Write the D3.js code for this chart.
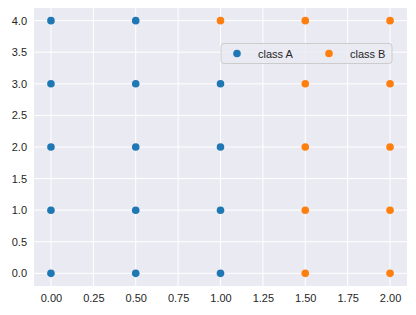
<!DOCTYPE html>
<html><head><meta charset="utf-8">
<script src="https://cdn.jsdelivr.net/npm/d3@7"></script>
<style>body{margin:0;background:#fff}</style>
</head><body>
<svg id="c" width="416" height="315"></svg>
<script>
const classAX = [0,0,0,0,0,0.5,0.5,0.5,0.5,0.5,1,1,1,1];
const classAY = [0,1,2,3,4,0,1,2,3,4,0,1,2,3];
const classBX = [1,1.5,1.5,1.5,1.5,1.5,2,2,2,2,2];
const classBY = [4,0,1,2,3,4,0,1,2,3,4];
const xTicks = [0,0.25,0.5,0.75,1,1.25,1.5,1.75,2];
const yTicks = [0,0.5,1,1.5,2,2.5,3,3.5,4];
const seriesNames = ["class A","class B"];
const colors = ["#1f77b4","#ff7f0e"];

const svg = d3.select("#c");
const L=34,R=407,T=8,B=286;
const x = d3.scaleLinear().domain([-0.1,2.1]).range([L,R]);
const y = d3.scaleLinear().domain([-0.2,4.2]).range([B,T]);
svg.append("rect").attr("x",L).attr("y",T).attr("width",R-L).attr("height",B-T).attr("fill","#eaeaf2");
const g = svg.append("g");
g.selectAll(".vx").data(xTicks).join("line").attr("x1",d=>x(d)).attr("x2",d=>x(d)).attr("y1",T).attr("y2",B).attr("stroke","#fff").attr("stroke-width",1);
g.selectAll(".hy").data(yTicks).join("line").attr("y1",d=>y(d)).attr("y2",d=>y(d)).attr("x1",L).attr("x2",R).attr("stroke","#fff").attr("stroke-width",1);

const xa = svg.append("g").attr("transform",`translate(0,${B})`).call(d3.axisBottom(x).tickValues(xTicks).tickFormat(d3.format(".2f")).tickSize(0).tickPadding(8));
const ya = svg.append("g").attr("transform",`translate(${L},0)`).call(d3.axisLeft(y).tickValues(yTicks).tickFormat(d3.format(".1f")).tickSize(0).tickPadding(7));
[xa,ya].forEach(a=>{a.select(".domain").remove();a.selectAll("text").attr("font-family","Liberation Sans, Arial, sans-serif").attr("font-size","11px").attr("fill","#262626");});

const A = classAX.map((v,i)=>({x:v,y:classAY[i]}));
const Bd = classBX.map((v,i)=>({x:v,y:classBY[i]}));
svg.append("g").selectAll("circle").data(A).join("circle").attr("cx",d=>x(d.x)).attr("cy",d=>y(d.y)).attr("r",3.8).attr("fill",colors[0]);
svg.append("g").selectAll("circle").data(Bd).join("circle").attr("cx",d=>x(d.x)).attr("cy",d=>y(d.y)).attr("r",3.8).attr("fill",colors[1]);

const lg = svg.append("g");
lg.append("rect").attr("x",221).attr("y",43.5).attr("width",171).attr("height",20).attr("rx",3).attr("fill","#eaeaf2").attr("fill-opacity",0.8).attr("stroke","#cccccc").attr("stroke-width",1);
const lx=[237,329], tx=[258,350];
seriesNames.forEach((n,i)=>{
  lg.append("circle").attr("cx",lx[i]).attr("cy",53.5).attr("r",3.8).attr("fill",colors[i]);
  lg.append("text").attr("x",tx[i]).attr("y",57.5).attr("font-family","Liberation Sans, Arial, sans-serif").attr("font-size","11px").attr("fill","#262626").text(n);
});
</script>
</body></html>
